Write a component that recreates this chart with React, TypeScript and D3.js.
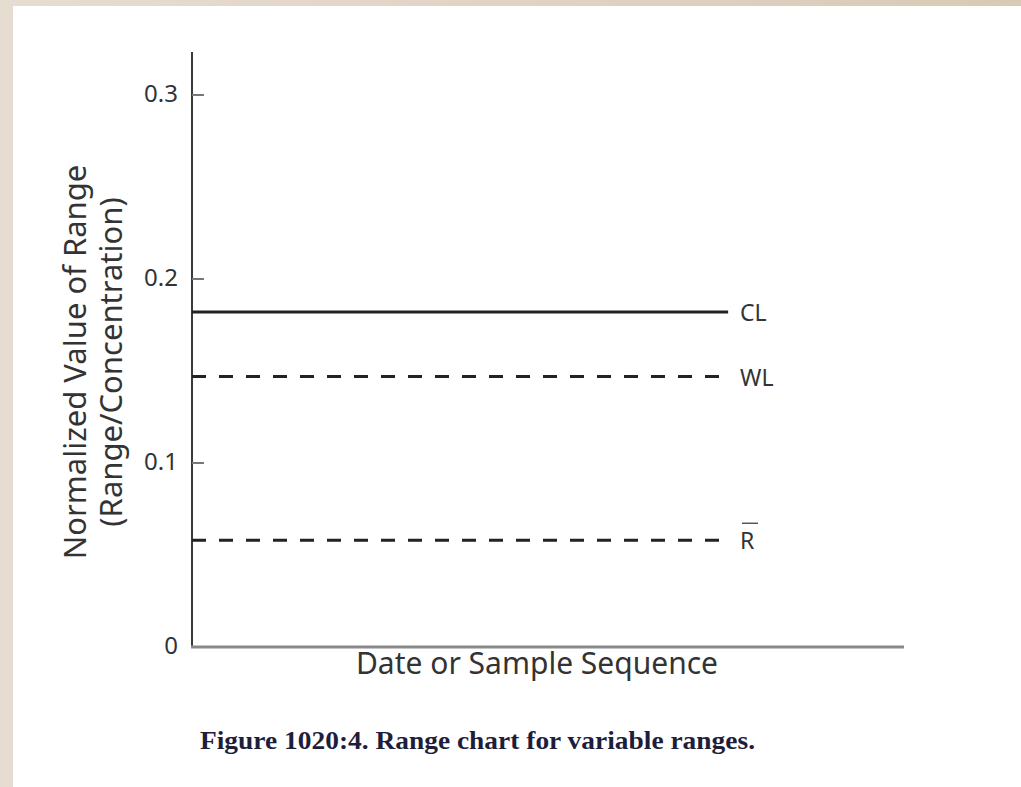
import React, { useEffect, useRef } from "react";
import * as d3 from "d3";

// control-limit lines (normalized range)
const limitNames = ["CL", "WL", "R"];
const limitValues = [0.182, 0.147, 0.058];
const limitDashed = [false, true, true];
const limitOverbar = [false, false, true];

const yTicks = [0, 0.1, 0.2, 0.3];
const yTickLabels = ["0", "0.1", "0.2", "0.3"];

const yTitle = ["Normalized Value of Range", "(Range/Concentration)"];
const xTitle = "Date or Sample Sequence";
const caption = "Figure 1020:4. Range chart for variable ranges.";

const W = 1021;
const H = 787;
const SANS = "'Noto Sans', 'Open Sans', sans-serif";

export default function App() {
  const ref = useRef<SVGSVGElement>(null);

  useEffect(() => {
    const svg = d3.select(ref.current);
    svg.selectAll("*").remove();

    const y = d3.scaleLinear().domain([0, 0.3]).range([647, 95]);
    const x = d3.scaleLinear().domain([0, 1]).range([192, 904]);
    const lineEnd = 0.753;

    // page background with the white sheet
    const grad = svg.append("defs").append("linearGradient")
      .attr("id", "bg").attr("x1", 0).attr("x2", 1).attr("y1", 0).attr("y2", 0);
    grad.append("stop").attr("offset", "0%").attr("stop-color", "#e6ddd2");
    grad.append("stop").attr("offset", "100%").attr("stop-color", "#d9cab5");
    svg.append("rect").attr("width", W).attr("height", H).attr("fill", "url(#bg)");
    svg.append("rect").attr("x", 13).attr("y", 6).attr("width", W - 13).attr("height", H - 6).attr("fill", "#fff");

    // axes
    svg.append("line")
      .attr("x1", x(0)).attr("x2", x(0))
      .attr("y1", 52).attr("y2", y(0))
      .attr("stroke", "#3a3a3a").attr("stroke-width", 2);
    svg.append("line")
      .attr("x1", x(0) - 1).attr("x2", x(1))
      .attr("y1", y(0)).attr("y2", y(0))
      .attr("stroke", "#8a8a8a").attr("stroke-width", 3);

    const ticks = svg.append("g");
    yTicks.forEach((t, i) => {
      if (t > 0) {
        ticks.append("line")
          .attr("x1", x(0)).attr("x2", x(0) + 12)
          .attr("y1", y(t)).attr("y2", y(t))
          .attr("stroke", "#777").attr("stroke-width", 2);
      }
      ticks.append("text")
        .attr("x", 178).attr("y", y(t) + 1)
        .attr("text-anchor", "end").attr("dominant-baseline", "middle")
        .attr("font-family", SANS).attr("font-size", 24).attr("fill", "#333")
        .text(yTickLabels[i]);
    });

    // limit lines
    limitValues.forEach((v, i) => {
      svg.append("line")
        .attr("x1", x(0)).attr("x2", x(lineEnd))
        .attr("y1", y(v)).attr("y2", y(v))
        .attr("stroke", "#222").attr("stroke-width", 3)
        .attr("stroke-dasharray", limitDashed[i] ? "14,13" : null);
      svg.append("text")
        .attr("x", 740).attr("y", y(v) + 9)
        .attr("font-family", SANS).attr("font-size", 23).attr("fill", "#333")
        .text(limitNames[i]);
      if (limitOverbar[i]) {
        svg.append("line")
          .attr("x1", 742).attr("x2", 758)
          .attr("y1", y(v) - 17).attr("y2", y(v) - 17)
          .attr("stroke", "#555").attr("stroke-width", 1.5);
      }
    });

    // titles
    yTitle.forEach((t, i) => {
      svg.append("text")
        .attr("transform", `translate(${86 + i * 36},362) rotate(-90)`)
        .attr("text-anchor", "middle")
        .attr("font-family", SANS).attr("font-size", 31).attr("fill", "#333")
        .text(t);
    });
    svg.append("text")
      .attr("x", 537).attr("y", 674)
      .attr("text-anchor", "middle")
      .attr("font-family", SANS).attr("font-size", 30).attr("fill", "#333")
      .text(xTitle);
    svg.append("text")
      .attr("x", 200).attr("y", 749)
      .attr("textLength", 555).attr("lengthAdjust", "spacingAndGlyphs")
      .attr("font-family", "'Liberation Serif', serif").attr("font-weight", "bold")
      .attr("font-size", 25).attr("fill", "#1e1e3c")
      .text(caption);
  }, []);

  return (
    <svg ref={ref} width={W} height={H}
      style={{ position: "absolute", left: 0, top: 0, display: "block" }} />
  );
}
